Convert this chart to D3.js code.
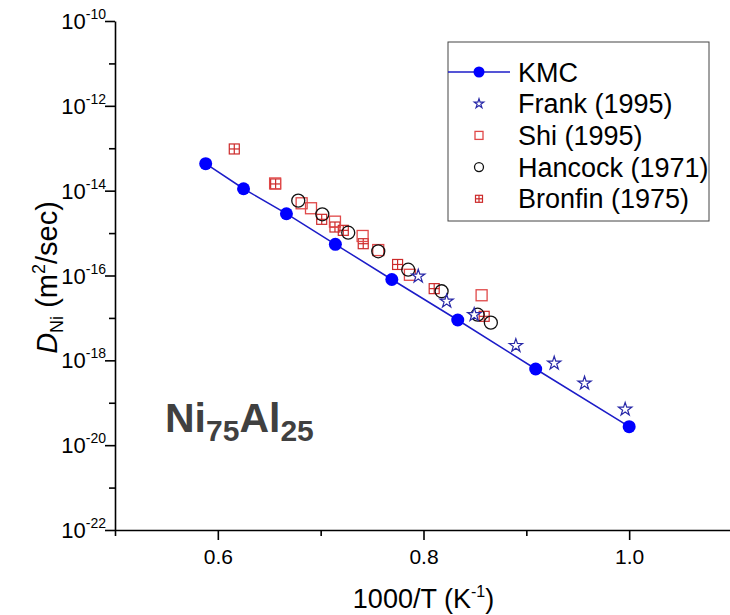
<!DOCTYPE html>
<html>
<head>
<meta charset="utf-8">
<script src="https://cdn.jsdelivr.net/npm/d3@7"></script>
<style>
    body { margin: 0; background: #fff; }
    svg { display: block; }
    text { font-family: "Liberation Sans", Arial, sans-serif; fill: #000; }
</style>
</head>
<body>
<svg id="chart" width="730" height="615"></svg>
<script>
// 1000/T (K^-1) and D_Ni (m^2/sec)
const kmcX = [0.5882, 0.625, 0.6667, 0.7143, 0.7692, 0.8333, 0.9091, 1.0];
const kmcD = [4.33e-14, 1.11e-14, 2.86e-15, 5.44e-16, 8.05e-17, 8.93e-18, 6.25e-19, 2.73e-20];

const frankX = [0.7949, 0.8225, 0.8493, 0.8898, 0.9271, 0.9566, 0.9961];
const frankD = [9.6e-17, 2.47e-17, 1.19e-17, 2.22e-18, 8.53e-19, 2.88e-19, 7.0e-20];

const shiX = [0.6557, 0.6815, 0.6906, 0.7139, 0.7408, 0.756, 0.7868, 0.8565];
const shiD = [1.48e-14, 5.04e-15, 3.85e-15, 1.86e-15, 8.55e-16, 3.98e-16, 1.04e-16, 3.42e-17];

const hancockX = [0.6782, 0.7016, 0.7268, 0.756, 0.7851, 0.8176, 0.8526, 0.8655];
const hancockD = [5.81e-15, 2.77e-15, 1.02e-15, 3.72e-16, 1.37e-16, 4.25e-17, 1.19e-17, 7.73e-18];

const bronfinX = [0.616, 0.6562, 0.701, 0.7139, 0.722, 0.7414, 0.7748, 0.8104, 0.859];
const bronfinD = [9.62e-14, 1.44e-14, 2.11e-15, 1.39e-15, 1.16e-15, 5.62e-16, 1.82e-16, 4.9e-17, 1.09e-17];

const xMajorTicks = [0.6, 0.8, 1.0];
const xMinorTicks = [0.5, 0.7, 0.9];
const yMajorExp = [-10, -12, -14, -16, -18, -20, -22];
const yMinorExp = [-11, -13, -15, -17, -19, -21];

const legendLabels = ['KMC', 'Frank (1995)', 'Shi (1995)', 'Hancock (1971)', 'Bronfin (1975)'];

const svg = d3.select('#chart');

const x = d3.scaleLinear().domain([0.5, 1.1]).range([115, 732]);
const y = d3.scaleLog().domain([1e-22, 1e-10]).range([530, 21]);

const blue = '#0000ff';
const lineBlue = '#1c1cc8';
const starBlue = '#2828a8';
const shiRed = '#e04848';
const bronfinRed = '#cc2a2a';

const zip = (xs, ys) => xs.map((v, i) => ({ x: v, d: ys[i] }));

// axes
const xAxis = svg.append('g').attr('transform', `translate(0,${y(1e-22)})`);
xAxis.call(d3.axisBottom(x).tickValues(xMajorTicks).tickSize(10).tickSizeOuter(0).tickFormat(d3.format('.1f')));
xAxis.append('g').call(d3.axisBottom(x).tickValues(xMinorTicks).tickSize(6).tickFormat(''))
    .select('.domain').remove();
xAxis.selectAll('.domain, line').attr('stroke', '#000').attr('stroke-width', 1.6);
xAxis.selectAll('.tick text').attr('font-size', 21).attr('font-family', 'Liberation Sans').attr('dy', '1.0em').attr('fill', '#000');

const yAxis = svg.append('g').attr('transform', `translate(${x(0.5)},0)`);
yAxis.call(d3.axisLeft(y).tickValues(yMajorExp.map(e => Math.pow(10, e))).tickSize(10).tickSizeOuter(0).tickFormat(''));
yAxis.append('g').call(d3.axisLeft(y).tickValues(yMinorExp.map(e => Math.pow(10, e))).tickSize(6).tickFormat(''))
    .select('.domain').remove();
yAxis.selectAll('.domain, line').attr('stroke', '#000').attr('stroke-width', 1.6);

// y tick labels as 10^n
yMajorExp.forEach(e => {
    const t = svg.append('text')
        .attr('x', 106)
        .attr('y', y(Math.pow(10, e)) + 8)
        .attr('text-anchor', 'end')
        .attr('font-size', 22);
    t.append('tspan').text('10');
    t.append('tspan').attr('font-size', 14).attr('dy', -10).text(e);
});

// axis titles
const xt = svg.append('text')
    .attr('x', x(0.8))
    .attr('y', 608)
    .attr('text-anchor', 'middle')
    .attr('font-size', 27);
xt.append('tspan').text('1000/T (K');
xt.append('tspan').attr('font-size', 16).attr('dy', -11).text('-1');
xt.append('tspan').attr('dy', 11).text(')');

const yt = svg.append('text')
    .attr('transform', `translate(57,${(y(1e-22) + y(1e-10)) / 2 + 2}) rotate(-90)`)
    .attr('text-anchor', 'middle')
    .attr('font-size', 29);
yt.append('tspan').attr('font-style', 'italic').text('D');
yt.append('tspan').attr('font-size', 18).attr('dy', 6).text('Ni');
yt.append('tspan').attr('dy', -6).text(' (m');
yt.append('tspan').attr('font-size', 18).attr('dy', -12).text('2');
yt.append('tspan').attr('dy', 12).text('/sec)');

// marker drawers
function drawStar(g, r) {
    g.append('path')
        .attr('d', d3.symbol().type(d3.symbolStar).size(r * r / 0.8908)())
        .attr('fill', '#fff').attr('stroke', starBlue).attr('stroke-width', 1.2);
}
function drawSquare(g, s) {
    g.append('rect').attr('x', -s / 2).attr('y', -s / 2).attr('width', s).attr('height', s)
        .attr('fill', 'none').attr('stroke', shiRed).attr('stroke-width', 1.3);
}
function drawCircle(g, r) {
    g.append('circle').attr('r', r).attr('fill', 'none').attr('stroke', '#111').attr('stroke-width', 1.3);
}
function drawGridSquare(g, s) {
    g.append('rect').attr('x', -s / 2).attr('y', -s / 2).attr('width', s).attr('height', s)
        .attr('fill', 'none').attr('stroke', bronfinRed).attr('stroke-width', 1.2);
    g.append('line').attr('x1', 0).attr('x2', 0).attr('y1', -s / 2).attr('y2', s / 2)
        .attr('stroke', bronfinRed).attr('stroke-width', 1.2);
    g.append('line').attr('x1', -s / 2).attr('x2', s / 2).attr('y1', 0).attr('y2', 0)
        .attr('stroke', bronfinRed).attr('stroke-width', 1.2);
}

function plotSeries(data, draw, size) {
    svg.append('g').selectAll('g')
        .data(data)
        .join('g')
        .attr('transform', p => `translate(${x(p.x)},${y(p.d)})`)
        .each(function() { draw(d3.select(this), size); });
}

plotSeries(zip(bronfinX, bronfinD), drawGridSquare, 10);
plotSeries(zip(shiX, shiD), drawSquare, 11);
plotSeries(zip(hancockX, hancockD), drawCircle, 6.5);
plotSeries(zip(frankX, frankD), drawStar, 7);

// KMC line + points
const kmc = zip(kmcX, kmcD);
svg.append('path')
    .datum(kmc)
    .attr('d', d3.line().x(p => x(p.x)).y(p => y(p.d)))
    .attr('fill', 'none')
    .attr('stroke', lineBlue)
    .attr('stroke-width', 1.5);
svg.append('g').selectAll('circle')
    .data(kmc)
    .join('circle')
    .attr('cx', p => x(p.x))
    .attr('cy', p => y(p.d))
    .attr('r', 6.5)
    .attr('fill', blue);

// legend
const legend = svg.append('g');
legend.append('rect')
    .attr('x', 448).attr('y', 42).attr('width', 261).attr('height', 179)
    .attr('fill', '#fff').attr('stroke', '#444').attr('stroke-width', 1);

const legendDraw = [
    g => {
        g.append('line').attr('x1', -31).attr('x2', 31).attr('stroke', lineBlue).attr('stroke-width', 1.5);
        g.append('circle').attr('r', 5.5).attr('fill', blue);
    },
    g => drawStar(g, 5),
    g => drawSquare(g, 8),
    g => drawCircle(g, 4.5),
    g => drawGridSquare(g, 7)
];

legendLabels.forEach((label, i) => {
    const cy = 72 + i * 31.7;
    const g = legend.append('g').attr('transform', `translate(479,${cy})`);
    legendDraw[i](g);
    legend.append('text')
        .attr('x', 518)
        .attr('y', cy + 9.5)
        .attr('font-size', 27)
        .text(label);
});

// composition label
const comp = svg.append('text')
    .attr('x', 165)
    .attr('y', 432)
    .attr('font-family', '"Open Sans", sans-serif')
    .attr('font-weight', 700)
    .attr('font-size', 41)
    .style('fill', '#404040');
comp.append('tspan').text('Ni');
comp.append('tspan').attr('font-size', 30).attr('dy', 9).text('75');
comp.append('tspan').attr('dy', -9).text('Al');
comp.append('tspan').attr('font-size', 30).attr('dy', 9).text('25');
</script>
</body>
</html>
